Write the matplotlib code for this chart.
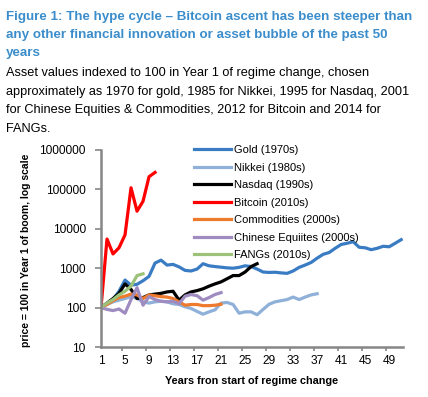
import matplotlib
matplotlib.use("Agg")
import matplotlib.pyplot as plt
from matplotlib.ticker import FixedLocator, NullFormatter

plt.rcParams['font.family'] = ['Liberation Sans', 'DejaVu Sans']

title_lines = ["Figure 1: The hype cycle \u2013 Bitcoin ascent has been steeper than",
               "any other financial innovation or asset bubble of the past 50",
               "years"]
subtitle_lines = ["Asset values indexed to 100 in Year 1 of regime change, chosen",
                  "approximately as 1970 for gold, 1985 for Nikkei, 1995 for Nasdaq, 2001",
                  "for Chinese Equities & Commodities, 2012 for Bitcoin and 2014 for",
                  "FANGs."]

gold = [100, 125, 160, 260, 500, 370, 390, 480, 620, 1350, 1600, 1200, 1250, 1080, 880,
        850, 950, 1300, 1150, 1100, 1060, 1020, 1000, 1050, 1150, 1100, 950, 800, 780, 790,
        760, 740, 850, 1050, 1200, 1400, 1800, 2250, 2500, 3200, 4000, 4300, 4700, 3400,
        3300, 2950, 3200, 3600, 3500, 4300, 5300]
nikkei = [100, 120, 140, 155, 170, 190, 170, 140, 130, 140, 145, 140, 125, 120, 105, 95,
          80, 68, 78, 88, 130, 135, 120, 72, 78, 78, 66, 90, 122, 140, 150, 160, 185, 160,
          185, 210, 225]
nasdaq = [100, 130, 170, 230, 400, 290, 170, 180, 210, 220, 230, 250, 260, 155, 210, 250,
          270, 300, 350, 400, 450, 540, 650, 650, 800, 1100, 1300]
bitcoin = [100, 5500, 2300, 3300, 7000, 110000, 28000, 50000, 210000, 270000]
commodities = [100, 120, 150, 180, 195, 220, 210, 170, 210, 200, 190, 185, 170, 140, 115,
               120, 120, 112, 112, 115, 122]
chinese = [100, 90, 84, 92, 72, 160, 320, 115, 190, 160, 145, 140, 145, 125, 195, 215, 200,
           155, 180, 215, 240]
fangs = [100, 130, 160, 210, 260, 350, 650, 720]

series_names = ["Gold (1970s)", "Nikkei (1980s)", "Nasdaq (1990s)", "Bitcoin (2010s)",
                "Commodities (2000s)", "Chinese Equiites (2000s)", "FANGs (2010s)"]
series_values = [gold, nikkei, nasdaq, bitcoin, commodities, chinese, fangs]
colors = ["#3A7CC4", "#8FB0D8", "#000000", "#FF0000", "#EE7A2C", "#9E8BC0", "#9DC27A"]

x_ticks = list(range(1, 50, 4))
y_ticks = [10, 100, 1000, 10000, 100000, 1000000]

W, H = 428, 397
fig = plt.figure(figsize=(W / 100, H / 100), dpi=100)

title_color = "#3B8DCB"
for i, line in enumerate(title_lines):
    fig.text(6 / W, 1 - (17 + 18 * i) / H, line, color=title_color, fontsize=9.65,
             fontweight='bold', va='center', ha='left')
for i, line in enumerate(subtitle_lines):
    fig.text(6 / W, 1 - (73 + 18.5 * i) / H, line, color='black', fontsize=9.2,
             va='center', ha='left')

ax = fig.add_axes([101 / W, 1 - 347 / H, (403 - 101) / W, (347 - 150) / H])
ax.set_yscale('log')
for name, vals, c in zip(series_names, series_values, colors):
    xs = list(range(1, len(vals) + 1))
    ax.plot(xs, vals, color=c, lw=2.3, label=name, solid_joinstyle='round')

ax.set_xlim(1, 51.3)
ax.set_ylim(10, 1000000)
ax.set_yticks(y_ticks)
ax.set_yticklabels([str(v) for v in y_ticks])
ax.yaxis.set_minor_locator(FixedLocator([]))
ax.set_xticks(x_ticks)
ax.set_xticklabels([str(v) for v in x_ticks])
ax.xaxis.set_minor_locator(FixedLocator([t + 3.55 for t in x_ticks]))
ax.xaxis.set_minor_formatter(NullFormatter())
ax.tick_params(axis='x', which='major', length=0, labelsize=8.6, pad=6)
ax.tick_params(axis='x', which='minor', length=3, width=1.2, color='#868686')
ax.tick_params(axis='y', which='major', length=4, width=1.2, color='#868686',
               labelsize=8.6, pad=7)
for s in ['top', 'right']:
    ax.spines[s].set_visible(False)
for s in ['left', 'bottom']:
    ax.spines[s].set_color('#868686')
    ax.spines[s].set_linewidth(1.8)

fig.text(252 / W, 1 - 381 / H, "Years fron start of regime change", fontsize=7.8,
         fontweight='bold', ha='center', va='center')
fig.text(26 / W, 1 - 250 / H, "price = 100 in Year 1 of boom, log scale", fontsize=7.5,
         fontweight='bold', ha='center', va='center', rotation=90)

leg = ax.legend(loc='upper left', bbox_to_anchor=(194 / W, 1 - 145 / H),
                bbox_transform=fig.transFigure, frameon=False, fontsize=8.0,
                handlelength=3.3, handletextpad=0.3, labelspacing=0.68,
                borderaxespad=0, borderpad=0)

fig.savefig("out.png", dpi=100)
